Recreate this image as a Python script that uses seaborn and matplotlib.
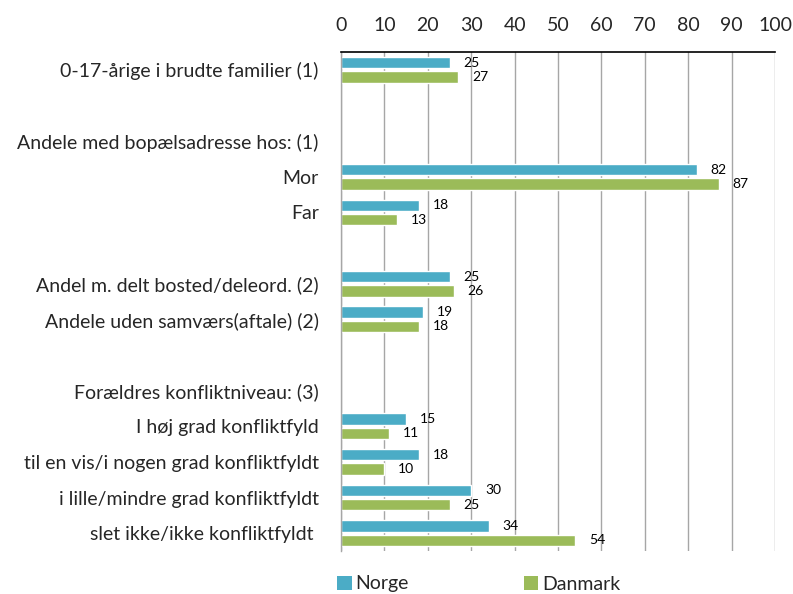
import matplotlib
matplotlib.use("Agg")
import matplotlib.pyplot as plt
import seaborn as sns
import pandas as pd
from matplotlib.patches import Patch

categories = [
    "0-17-årige i brudte familier (1)",
    "",
    "Andele med bopælsadresse hos: (1)",
    "Mor",
    "Far",
    " ",
    "Andel m. delt bosted/deleord. (2)",
    "Andele uden samværs(aftale) (2)",
    "  ",
    "Forældres konfliktniveau: (3)",
    "I høj grad konfliktfyld",
    "til en vis/i nogen grad konfliktfyldt",
    "i lille/mindre grad konfliktfyldt",
    "slet ikke/ikke konfliktfyldt ",
]
bar_categories = [
    "0-17-årige i brudte familier (1)",
    "Mor",
    "Far",
    "Andel m. delt bosted/deleord. (2)",
    "Andele uden samværs(aftale) (2)",
    "I høj grad konfliktfyld",
    "til en vis/i nogen grad konfliktfyldt",
    "i lille/mindre grad konfliktfyldt",
    "slet ikke/ikke konfliktfyldt ",
]
norge = [25, 82, 18, 25, 19, 15, 18, 30, 34]
danmark = [27, 87, 13, 26, 18, 11, 10, 25, 54]
series = ["Norge", "Danmark"]
colors = ["#4BACC6", "#9BBB59"]
xticks = [0, 10, 20, 30, 40, 50, 60, 70, 80, 90, 100]

df = pd.DataFrame({
    "cat": bar_categories * 2,
    "val": norge + danmark,
    "land": ["Norge"] * len(norge) + ["Danmark"] * len(danmark),
})

sns.set_style("white")
plt.rcParams["font.family"] = ["Lato", "DejaVu Sans"]

fig = plt.figure(figsize=(7.93, 5.94), dpi=100)
ax = fig.add_axes([341 / 793, 1 - 551 / 594, (775 - 341) / 793, (551 - 52) / 594])

sns.barplot(data=df, y="cat", x="val", hue="land", order=categories,
            hue_order=series, palette=colors, width=0.8, gap=0.2,
            orient="h", ax=ax, legend=False, saturation=1)

for cont in ax.containers:
    ax.bar_label(cont, padding=10, fontsize=10, color="#000000")

ax.set_xlim(0, 100)
ax.set_ylim(len(categories) - 0.5, -0.5)
ax.set_xticks(xticks)
ax.xaxis.tick_top()
ax.tick_params(axis="x", length=0, pad=13, labelsize=14)
ax.tick_params(axis="y", length=0, pad=16, labelsize=14)
ax.set_xlabel("")
ax.set_ylabel("")
ax.grid(axis="x", color="#A6A6A6", linewidth=1)
ax.set_axisbelow(True)
for s in ["right", "bottom"]:
    ax.spines[s].set_visible(False)
ax.spines["top"].set_color("#000000")
ax.spines["top"].set_linewidth(1.2)
ax.spines["left"].set_color("#A6A6A6")
ax.spines["left"].set_linewidth(1)

handles = [Patch(facecolor=c, edgecolor="none", label=l) for c, l in zip(colors, series)]
fig.legend(handles=handles, loc="center left", bbox_to_anchor=(337 / 793, 1 - 584 / 594),
           ncol=2, frameon=False, fontsize=14, handlelength=0.75, handleheight=0.75,
           handletextpad=0.2, columnspacing=5.9, borderaxespad=0, borderpad=0)

fig.savefig("out.png", dpi=100)
